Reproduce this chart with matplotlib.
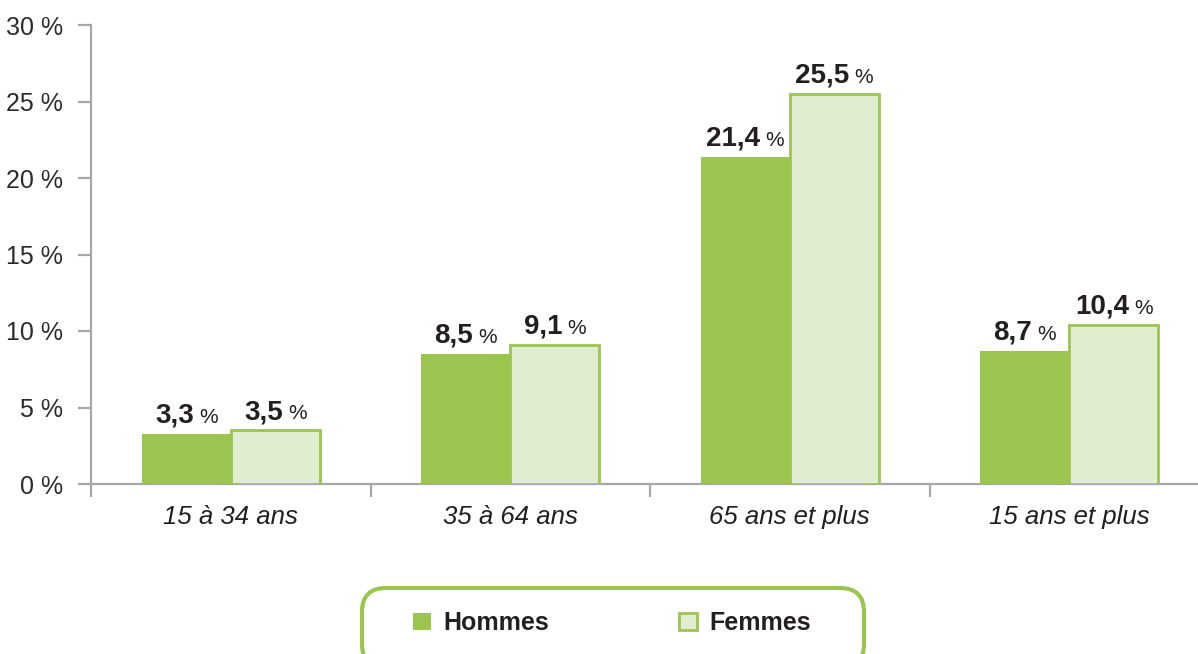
import matplotlib
matplotlib.use("Agg")
import matplotlib.pyplot as plt
import numpy as np
from matplotlib.patches import FancyBboxPatch
from matplotlib.transforms import ScaledTranslation

categories = ["15 à 34 ans", "35 à 64 ans", "65 ans et plus", "15 ans et plus"]
hommes = [3.3, 8.5, 21.4, 8.7]
femmes = [3.5, 9.1, 25.5, 10.4]
series_names = ["Hommes", "Femmes"]
yticks = [0, 5, 10, 15, 20, 25, 30]
ytick_labels = ["0 %", "5 %", "10 %", "15 %", "20 %", "25 %", "30 %"]

GREEN = "#9BC54F"
LIGHT = "#E1EDD1"
GRAY = "#A7A7A9"
TXT = "#231F20"
FAM = ["Liberation Sans", "DejaVu Sans"]

W, H, DPI = 1198, 654, 100
fig = plt.figure(figsize=(W / DPI, H / DPI), dpi=DPI)
ax = fig.add_axes([91 / W, 170 / H, (W - 91) / W, (484 - 25) / H])

x = np.arange(len(categories))
bw = 0.318
b1 = ax.bar(x - bw / 2, hommes, bw, color=GREEN, linewidth=0, label=series_names[0], zorder=3)
b2 = ax.bar(x + bw / 2, femmes, bw, color=LIGHT, edgecolor=GREEN, linewidth=2.0,
            label=series_names[1], zorder=3)

for s in ["top", "right"]:
    ax.spines[s].set_visible(False)
for s in ["left", "bottom"]:
    ax.spines[s].set_color(GRAY)
    ax.spines[s].set_linewidth(1.6)

ax.set_yticks(yticks)
ax.set_yticklabels(ytick_labels, family=FAM, fontsize=18, color="#2b2b2b")
ax.tick_params(axis="y", length=9.5, width=1.6, color=GRAY, pad=10.5)

ax.set_xticks(np.arange(-0.5, len(categories) + 0.5, 1.0))
ax.set_xticklabels([])
ax.tick_params(axis="x", which="major", length=9.5, width=1.6, color=GRAY)
ax.set_xticks(x, minor=True)
ax.set_xticklabels(categories, minor=True, style="italic", family=FAM,
                   fontsize=18.5, color=TXT)
ax.tick_params(axis="x", which="minor", length=0, pad=15)

ax.set_ylim(0, 30)
ax.set_xlim(-0.5, -0.5 + (W - 91) / 279.5)

# value labels: number + smaller % sign
fig.canvas.draw()
renderer = fig.canvas.get_renderer()
gap = 5
for bars, vals in ((b1, hommes), (b2, femmes)):
    for rect, v in zip(bars, vals):
        cx = rect.get_x() + rect.get_width() / 2
        num = f"{v:.1f}".replace(".", ",")
        t1 = ax.text(cx, v, num, ha="left", va="baseline", fontsize=20, fontweight="bold",
                     family=FAM, color=TXT)
        t2 = ax.text(cx, v, "%", ha="left", va="baseline", fontsize=15,
                     family=FAM, color=TXT)
        w1 = t1.get_window_extent(renderer).width
        w2 = t2.get_window_extent(renderer).width
        total = w1 + gap + w2
        dy = 11 / DPI
        t1.set_transform(ax.transData + ScaledTranslation(-total / 2 / DPI, dy, fig.dpi_scale_trans))
        t2.set_transform(ax.transData + ScaledTranslation((-total / 2 + w1 + gap) / DPI, dy,
                                                          fig.dpi_scale_trans))

# legend frame
frame = FancyBboxPatch((362 / W, (654 - 668) / H), 502 / W, 80 / H,
                       boxstyle="round,pad=0,rounding_size=0.02",
                       transform=fig.transFigure, facecolor="white", edgecolor=GREEN,
                       linewidth=3, zorder=0, mutation_aspect=W / H)
fig.patches.append(frame)

leg = fig.legend(handles=[b1, b2], labels=series_names, loc="center",
                 bbox_to_anchor=(612 / W, 1 - 623 / H), ncol=2, frameon=False,
                 prop={"family": FAM, "weight": "bold", "size": 18},
                 handlelength=0.7, handleheight=0.7, handletextpad=0.5, columnspacing=5.2)
for t in leg.get_texts():
    t.set_color(TXT)

fig.savefig("out.png", dpi=DPI)
